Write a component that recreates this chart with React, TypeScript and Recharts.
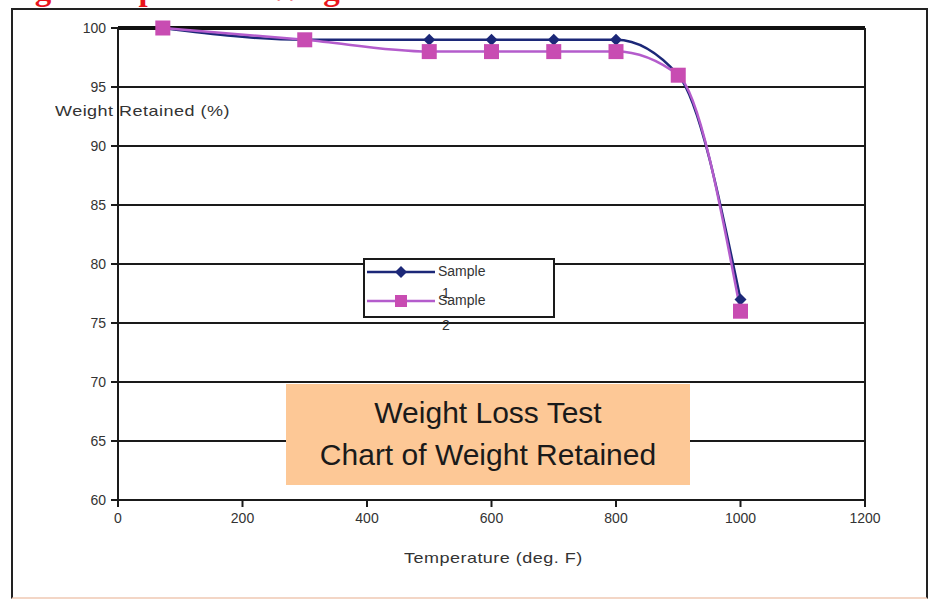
import { LineChart, Line, XAxis, YAxis, CartesianGrid, ReferenceLine, Legend } from "recharts"

const temps = [72, 300, 500, 600, 700, 800, 900, 1000]
const sample1 = [100, 99, 99, 99, 99, 99, 96, 77]
const sample2 = [100, 99, 98, 98, 98, 98, 96, 76]
const xTicks = [0, 200, 400, 600, 800, 1000, 1200]
const yTicks = [60, 65, 70, 75, 80, 85, 90, 95, 100]

const data = temps.map((t, i) => ({ temp: t, s1: sample1[i], s2: sample2[i] }))

const NAVY = "#1c2878"
const LILAC = "#b45ccc"
const SQUARE = "#c84cb2"
const FONT = "'Liberation Sans', Arial, sans-serif"

const Diamond = (props: any) => {
  const { cx, cy, index } = props
  if (cx == null || cy == null) return <g key={`d-${index}`} />
  const r = 6
  return (
    <path
      key={`d-${index}`}
      d={`M${cx},${cy - r} L${cx + r},${cy} L${cx},${cy + r} L${cx - r},${cy} Z`}
      fill={NAVY}
    />
  )
}

const Square = (props: any) => {
  const { cx, cy, index } = props
  if (cx == null || cy == null) return <g key={`s-${index}`} />
  const h = 7.5
  return <rect key={`s-${index}`} x={cx - h} y={cy - h} width={h * 2} height={h * 2} fill={SQUARE} />
}

const LegendBox = () => (
  <div
    style={{
      position: "relative",
      width: 192,
      height: 60,
      background: "#fff",
      border: "2px solid #1a1a1a",
      boxSizing: "border-box",
      fontFamily: FONT,
      fontSize: 14,
      color: "#333",
    }}
  >
    <svg width={80} height={56} style={{ position: "absolute", left: 2, top: 0 }}>
      <line x1={0} y1={12} x2={68} y2={12} stroke={NAVY} strokeWidth={2.5} />
      <path d="M34,6 L40,12 L34,18 L28,12 Z" fill={NAVY} />
      <line x1={0} y1={41} x2={68} y2={41} stroke={LILAC} strokeWidth={2.5} />
      <rect x={28} y={35} width={12} height={12} fill={SQUARE} />
    </svg>
    <div style={{ position: "absolute", left: 73, top: 3 }}>Sample</div>
    <div style={{ position: "absolute", left: 77, top: 25 }}>1</div>
    <div style={{ position: "absolute", left: 73, top: 32 }}>Sample</div>
    <div style={{ position: "absolute", left: 77, top: 57 }}>2</div>
  </div>
)

const wideText = {
  position: "absolute" as const,
  fontFamily: FONT,
  fontSize: 15,
  color: "#333",
  letterSpacing: 0.4,
  whiteSpace: "nowrap" as const,
  transform: "scaleX(1.2)",
  transformOrigin: "left center",
}

export default function App() {
  return (
    <div style={{ position: "absolute", left: 0, top: 0, width: 931, height: 601, overflow: "hidden", background: "#fff" }}>
      <div
        style={{
          position: "absolute",
          left: 0,
          top: -29,
          fontFamily: "'Liberation Serif', 'Times New Roman', serif",
          fontWeight: "bold",
          fontSize: 33,
          color: "#e8141c",
          whiteSpace: "nowrap",
        }}
      >
        High Temperature Weightloss Results
      </div>
      <div
        style={{
          position: "absolute",
          left: 11,
          top: 8,
          width: 917,
          height: 591,
          borderLeft: "2.5px solid #222",
          borderTop: "2.5px solid #222",
          borderRight: "2.5px solid #222",
          borderBottom: "2px solid #f3d6c6",
          boxSizing: "border-box",
        }}
      />
      <div style={{ ...wideText, left: 55, top: 102 }}>Weight Retained (%)</div>
      <div style={{ ...wideText, left: 404, top: 549 }}>Temperature (deg. F)</div>
      <div style={{ position: "absolute", left: 0, top: 0 }}>
        <LineChart width={931} height={601} data={data} margin={{ top: 28, right: 66, left: 58, bottom: 71 }}>
          <CartesianGrid vertical={false} stroke="#1a1a1a" strokeWidth={2} />
          <XAxis
            type="number"
            dataKey="temp"
            domain={[0, 1200]}
            ticks={xTicks}
            height={30}
            axisLine={{ stroke: "#1a1a1a", strokeWidth: 2 }}
            tickLine={{ stroke: "#1a1a1a", strokeWidth: 2 }}
            tickSize={7}
            tickMargin={6}
            tick={{ fontFamily: FONT, fontSize: 14, fill: "#333" }}
          />
          <YAxis
            type="number"
            domain={[60, 100]}
            ticks={yTicks}
            width={60}
            axisLine={{ stroke: "#1a1a1a", strokeWidth: 2 }}
            tickLine={{ stroke: "#1a1a1a", strokeWidth: 2 }}
            tickSize={7}
            tickMargin={5}
            tick={{ fontFamily: FONT, fontSize: 14, fill: "#333" }}
          />
          <ReferenceLine y={100} stroke="#111" strokeWidth={4} />
          <ReferenceLine x={1200} stroke="#1a1a1a" strokeWidth={2} />
          <Legend
            layout="horizontal"
            verticalAlign="middle"
            align="center"
            content={() => <LegendBox />}
            wrapperStyle={{ position: "absolute", left: 363, top: 258, width: 192, height: 60 }}
          />
          <Line
            type="monotone"
            dataKey="s1"
            name="Sample 1"
            stroke={NAVY}
            strokeWidth={2.5}
            dot={Diamond}
            activeDot={false}
            isAnimationActive={false}
          />
          <Line
            type="monotone"
            dataKey="s2"
            name="Sample 2"
            stroke={LILAC}
            strokeWidth={2.5}
            dot={Square}
            activeDot={false}
            isAnimationActive={false}
          />
        </LineChart>
      </div>
      <div
        style={{
          position: "absolute",
          left: 286,
          top: 384,
          width: 404,
          height: 101,
          background: "#fdc896",
          fontFamily: FONT,
          fontSize: 30,
          color: "#1a1a1a",
          textAlign: "center",
          lineHeight: "42px",
          paddingTop: 8,
          boxSizing: "border-box",
        }}
      >
        Weight Loss Test
        <br />
        Chart of Weight Retained
      </div>
    </div>
  )
}
